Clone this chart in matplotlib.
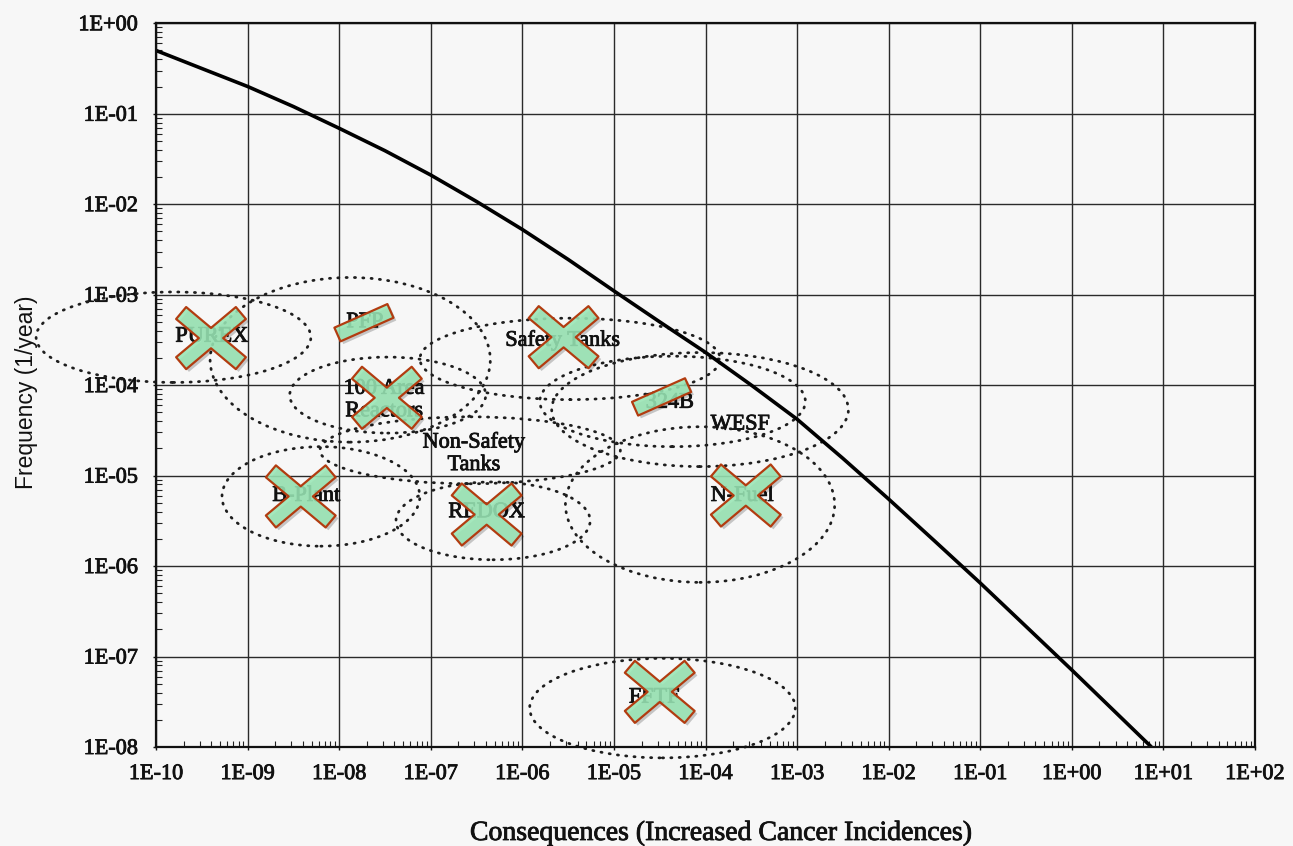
import numpy as np
import matplotlib
matplotlib.use("Agg")
import matplotlib.pyplot as plt
import matplotlib.patheffects as pe
from matplotlib.patches import Ellipse
from matplotlib.path import Path
from matplotlib.ticker import FixedLocator, FixedFormatter, LogLocator, NullFormatter

curve_cons = [1e-10, 10 ** -9.5, 1e-9, 10 ** -8.5, 1e-8, 10 ** -7.5, 1e-7, 10 ** -6.5,
              1e-6, 10 ** -5.5, 1e-5, 10 ** -4.5, 1e-4, 10 ** -3.5, 1e-3, 10 ** -2.5,
              1e-2, 10 ** -1.5, 1e-1, 10 ** -0.5, 1.0, 10 ** 0.5, 7.4]
curve_freq = [0.50, 0.316, 0.20, 0.120, 0.069, 0.039, 0.021, 0.0107,
              5.25e-3, 2.45e-3, 1.1e-3, 5.0e-4, 2.3e-4, 1.0e-4, 4.2e-5, 1.55e-5,
              5.5e-6, 1.9e-6, 6.5e-7, 2.15e-7, 7.1e-8, 2.3e-8, 1e-8]

# dotted uncertainty ellipses: centre (log10) and half extents in decades
ell_logx = [-9.81, -7.88, -7.47, -6.57, -5.48, -4.36, -4.06, -8.20, -6.32, -4.06, -4.47]
ell_logy = [-3.47, -3.72, -4.11, -4.72, -3.71, -4.18, -4.27, -5.23, -5.50, -5.32, -7.57]
ell_halfw = [1.50, 1.53, 1.07, 1.64, 1.64, 1.45, 1.62, 1.08, 1.06, 1.47, 1.45]
ell_halfh = [0.50, 0.91, 0.42, 0.37, 0.45, 0.50, 0.63, 0.55, 0.43, 0.86, 0.55]

# facility labels
lab_text = ["PUREX", "PFP", "100 Area\nReactors", "Non-Safety\nTanks", "Safety Tanks",
            "324B", "WESF", "B-Plant", "REDOX", "N-Fuel", "FFTF"]
lab_logx = [-9.39, -7.72, -7.51, -6.53, -5.56, -4.39, -3.62, -8.36, -6.39, -3.60, -4.56]
lab_logy = [-3.47, -3.31, -4.17, -4.76, -3.51, -4.20, -4.44, -5.23, -5.41, -5.23, -7.46]

# green "X" overlays and green bars
x_logx = [-9.40, -7.48, -8.42, -6.39, -5.55, -3.56, -4.50]
x_logy = [-3.48, -4.14, -5.23, -5.43, -3.47, -5.22, -7.39]
bar_logx = [-7.73, -4.48]
bar_logy = [-3.31, -4.13]

x_ticks = [10.0 ** k for k in range(-10, 3)]
x_tick_labels = ["1E-10", "1E-09", "1E-08", "1E-07", "1E-06", "1E-05", "1E-04",
                 "1E-03", "1E-02", "1E-01", "1E+00", "1E+01", "1E+02"]
y_ticks = [10.0 ** k for k in range(-8, 1)]
y_tick_labels = ["1E-08", "1E-07", "1E-06", "1E-05", "1E-04", "1E-03", "1E-02", "1E-01", "1E+00"]


def cross_path(half_len, half_w, ang):
    t = np.radians(ang)
    d1, n1 = np.array([np.cos(t), np.sin(t)]), np.array([-np.sin(t), np.cos(t)])
    d2, n2 = np.array([np.cos(t), -np.sin(t)]), np.array([np.sin(t), np.cos(t)])
    pts = []
    for d, n in ((d1, n1), (d2, n2)):
        for s in (1, -1):
            for k in (1, -1):
                pts.append(s * half_len * d + k * half_w * n)
    m = np.array([n1, n2])
    for a in (1, -1):
        for b in (1, -1):
            pts.append(np.linalg.solve(m, [a * half_w, b * half_w]))
    pts = np.array(pts)
    pts = pts[np.argsort(np.arctan2(pts[:, 1], pts[:, 0]))]
    return Path(np.vstack([pts, pts[:1]]), closed=True)


def bar_path(half_len, half_w, ang):
    t = np.radians(ang)
    d, n = np.array([np.cos(t), np.sin(t)]), np.array([-np.sin(t), np.cos(t)])
    pts = np.array([half_len * d + half_w * n, -half_len * d + half_w * n,
                    -half_len * d - half_w * n, half_len * d - half_w * n])
    return Path(np.vstack([pts, pts[:1]]), closed=True)


dpi = 100
fig = plt.figure(figsize=(12.93, 8.46), dpi=dpi, facecolor="#f7f7f7")
ax = fig.add_axes([0.1207, 0.1170, 0.8499, 0.8555], facecolor="#f7f7f7")
ax.set_xscale("log")
ax.set_yscale("log")
ax.set_xlim(1e-10, 1e2)
ax.set_ylim(1e-8, 1.0)

serif = "Liberation Serif"
ink = "#111111"
thick = [pe.withStroke(linewidth=0.6, foreground=ink)]

ax.xaxis.set_major_locator(FixedLocator(x_ticks))
ax.xaxis.set_major_formatter(FixedFormatter(x_tick_labels))
ax.yaxis.set_major_locator(FixedLocator(y_ticks))
ax.yaxis.set_major_formatter(FixedFormatter(y_tick_labels))
ax.xaxis.set_minor_locator(LogLocator(base=10, subs=np.arange(2, 10), numticks=30))
ax.yaxis.set_minor_locator(LogLocator(base=10, subs=np.arange(2, 10), numticks=30))
ax.xaxis.set_minor_formatter(NullFormatter())
ax.yaxis.set_minor_formatter(NullFormatter())
ax.tick_params(which="major", direction="out", length=2, width=1, pad=11,
               labelsize=16, colors=ink)
ax.tick_params(which="minor", direction="in", length=4, width=0.8, color="#222222")
for lbl in ax.get_xticklabels() + ax.get_yticklabels():
    lbl.set_fontfamily(serif)
    lbl.set_path_effects(thick)

ax.grid(True, which="major", color="#2a2a2a", linewidth=1.0, zorder=0.5)
ax.set_axisbelow(True)
for sp in ax.spines.values():
    sp.set_linewidth(1.6)
    sp.set_color(ink)

# ellipses are drawn in log10 space through the axes' own scale/limits
log_trans = ax.transLimits + ax.transAxes
for cx, cy, hw, hh in zip(ell_logx, ell_logy, ell_halfw, ell_halfh):
    e = Ellipse((cx, cy), 2 * hw, 2 * hh, transform=log_trans, fill=False,
                edgecolor="#1e1e1e", linewidth=2.0, linestyle=(0, (0.4, 2.6)),
                capstyle="round", clip_on=False, zorder=1)
    ax.add_patch(e)

ax.plot(curve_cons, curve_freq, color="black", linewidth=2.6, zorder=2,
        solid_capstyle="butt", solid_joinstyle="round")

for txt, lx, ly in zip(lab_text, lab_logx, lab_logy):
    ax.text(10 ** lx, 10 ** ly, txt, ha="center", va="center", fontsize=16,
            family=serif, color=ink, linespacing=1.25, zorder=3, path_effects=thick)

shadow = [pe.SimplePatchShadow(offset=(2, -2), shadow_rgbFace="black", alpha=0.2), pe.Normal()]
face = (0.60, 0.90, 0.71, 0.88)
edge = "#b23c10"

xp = cross_path(39.0, 7.8, 40)
xms = 2 * np.abs(xp.vertices).max() * 72 / dpi
ax.plot(10 ** np.array(x_logx), 10 ** np.array(x_logy), linestyle="none", marker=xp,
        markersize=xms, markerfacecolor=face, markeredgecolor=edge, markeredgewidth=1.6,
        path_effects=shadow, zorder=4, clip_on=False)

bp = bar_path(29.0, 7.5, 24)
bms = 2 * np.abs(bp.vertices).max() * 72 / dpi
ax.plot(10 ** np.array(bar_logx), 10 ** np.array(bar_logy), linestyle="none", marker=bp,
        markersize=bms, markerfacecolor=face, markeredgecolor=edge, markeredgewidth=1.6,
        path_effects=shadow, zorder=4, clip_on=False)

ax.set_xlabel("Consequences (Increased Cancer Incidences)", fontsize=20, family=serif,
              color=ink, path_effects=thick)
ax.xaxis.set_label_coords(0.514, -0.102)
ax.set_ylabel("Frequency (1/year)", fontsize=16.5, family="Liberation Sans", color=ink)
ax.yaxis.set_label_coords(-0.107, 0.49)

fig.savefig("out.png", dpi=dpi, facecolor=fig.get_facecolor())
